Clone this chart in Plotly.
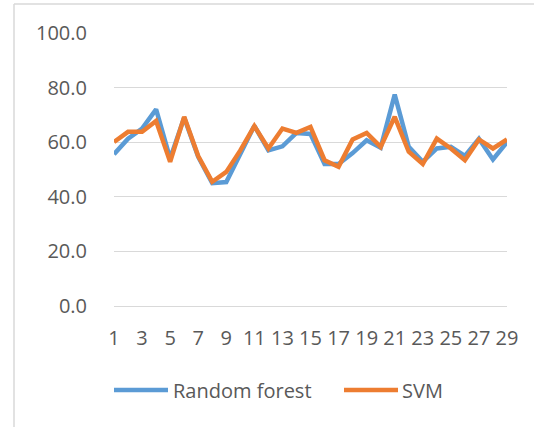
import plotly.graph_objects as go

categories = [str(i) for i in range(1, 30)]
random_forest = [55.6, 61.3, 65.0, 72.0, 54.0, 69.0, 54.6, 45.0, 45.4, 56.0,
                 66.0, 57.0, 58.5, 63.4, 63.0, 52.0, 52.0, 56.0, 60.7, 58.0,
                 77.4, 58.3, 52.8, 57.7, 58.3, 55.0, 61.3, 53.7, 60.0]
svm = [60.1, 63.8, 63.8, 67.8, 52.8, 69.3, 54.9, 45.5, 49.1, 57.0,
       65.9, 57.7, 65.0, 63.4, 65.6, 53.4, 51.0, 61.0, 63.4, 58.3,
       69.3, 56.5, 52.0, 61.3, 57.7, 53.4, 61.0, 57.7, 61.0]
x_ticks = categories[::2]
y_ticks = [0, 20, 40, 60, 80, 100]
y_tick_labels = [f"{v:.1f}" for v in y_ticks]

BLUE = "#5B9BD5"
ORANGE = "#ED7D31"
TXT = "#595959"
FONT = "Open Sans"

fig = go.Figure()
fig.add_trace(go.Scatter(x=categories, y=random_forest, mode="lines", name="Random forest",
                         line=dict(color=BLUE, width=4.5), showlegend=False))
fig.add_trace(go.Scatter(x=categories, y=svm, mode="lines", name="SVM",
                         line=dict(color=ORANGE, width=4.5), showlegend=False))

W, H = 534, 427
L, R, T, B = 114, 27, 33, 121
pw, ph = W - L - R, H - T - B

def px(x):
    return (x - L) / pw

def py(y):
    return (H - B - y) / ph

LEG_Y = 390
shapes = [
    dict(type="line", xref="paper", yref="paper", x0=px(14), x1=px(600), y0=py(4), y1=py(4),
         line=dict(color="#d9d9d9", width=1.5), layer="below"),
    dict(type="line", xref="paper", yref="paper", x0=px(14), x1=px(14), y0=py(4), y1=py(500),
         line=dict(color="#d9d9d9", width=1.5), layer="below"),
    dict(type="line", xref="paper", yref="paper", x0=px(114), x1=px(168), y0=py(LEG_Y), y1=py(LEG_Y),
         line=dict(color=BLUE, width=4.5)),
    dict(type="line", xref="paper", yref="paper", x0=px(344), x1=px(398), y0=py(LEG_Y), y1=py(LEG_Y),
         line=dict(color=ORANGE, width=4.5)),
]
annotations = [
    dict(text="Random forest", xref="paper", yref="paper", x=px(171), y=py(LEG_Y), xanchor="left",
         yanchor="middle", showarrow=False, font=dict(family=FONT, size=20, color=TXT)),
    dict(text="SVM", xref="paper", yref="paper", x=px(400), y=py(LEG_Y), xanchor="left",
         yanchor="middle", showarrow=False, font=dict(family=FONT, size=20, color=TXT)),
]

fig.update_layout(
    width=W, height=H,
    margin=dict(l=L, r=R, t=T, b=B),
    paper_bgcolor="white", plot_bgcolor="white",
    shapes=shapes, annotations=annotations,
    font=dict(family=FONT, size=20, color=TXT),
)
fig.update_xaxes(type="category", tickmode="array", tickvals=x_ticks, ticktext=x_ticks,
                 showgrid=False, showline=False, zeroline=False, ticks="",
                 ticklabelstandoff=18, tickfont=dict(family=FONT, size=20, color=TXT))
fig.update_yaxes(range=[0, 100], tickmode="array", tickvals=y_ticks, ticktext=y_tick_labels,
                 showgrid=True, gridcolor="#d9d9d9", gridwidth=1, zeroline=True,
                 zerolinecolor="#d9d9d9", zerolinewidth=1, showline=False, ticks="",
                 ticklabelstandoff=26, tickfont=dict(family=FONT, size=20, color=TXT))

fig.write_html("out.html", config={"displayModeBar": False},
               post_script="document.body.style.margin='0';document.body.style.overflow='hidden';")
